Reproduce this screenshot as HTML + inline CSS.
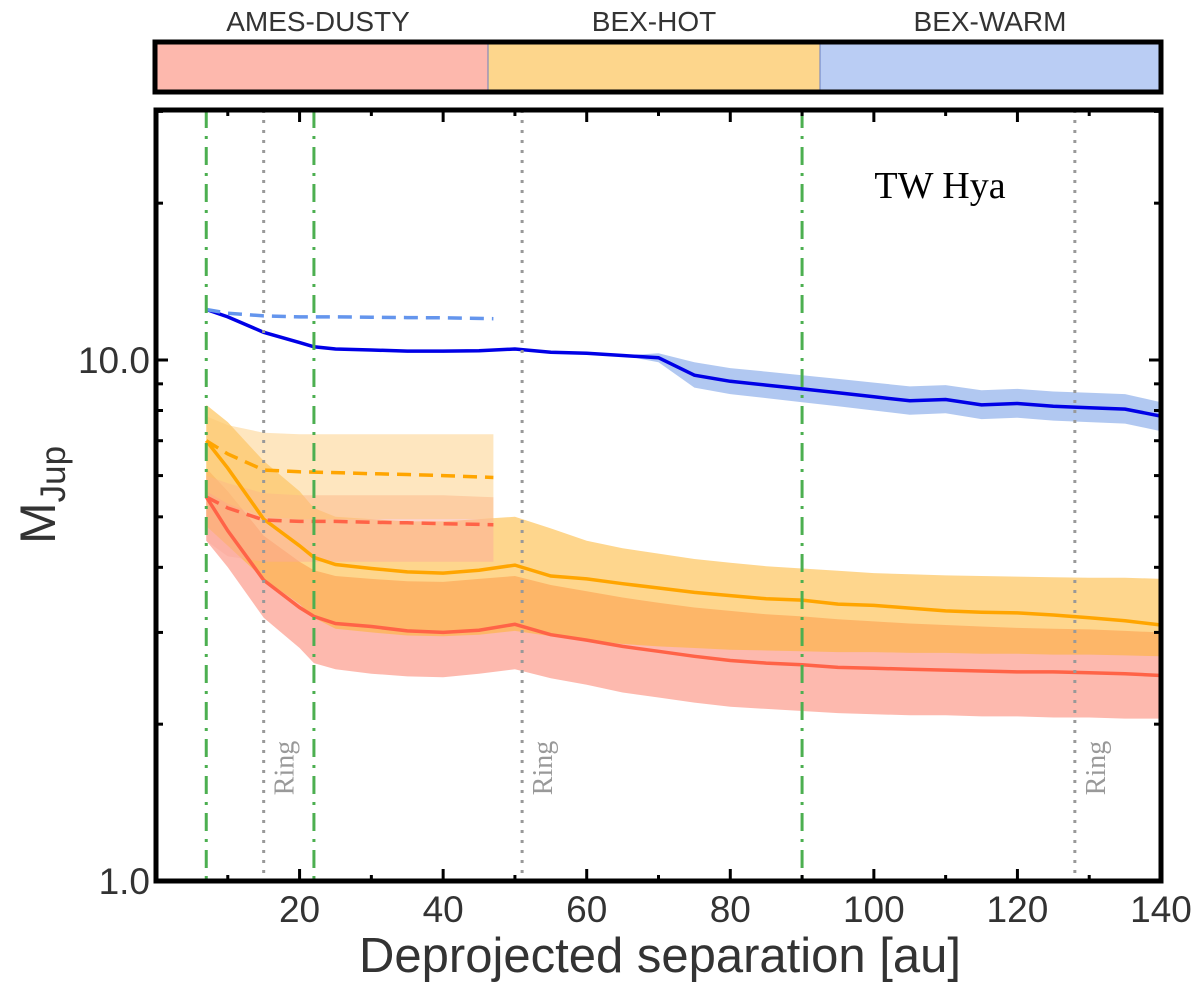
<!DOCTYPE html>
<html><head><meta charset="utf-8"><style>
body{margin:0;background:#fff;width:1200px;height:987px;overflow:hidden}
svg{display:block;font-family:"Liberation Sans",sans-serif}
</style></head><body>
<svg id="chart" width="1200" height="987" xmlns="http://www.w3.org/2000/svg">
<g>
<rect x="155" y="42" width="333" height="50" fill="#fdb8ad"/>
<rect x="488" y="42" width="332" height="50" fill="#fdd68c"/>
<rect x="820" y="42" width="341" height="50" fill="#bacdf4"/>
<line x1="488" y1="42" x2="488" y2="92" stroke="#6a7fc0" stroke-width="1"/>
<line x1="820" y1="42" x2="820" y2="92" stroke="#6a7fc0" stroke-width="1"/>
<rect x="155" y="42" width="1006" height="50" fill="none" stroke="#000" stroke-width="5"/>
<text x="318" y="31" font-size="28" fill="#333" text-anchor="middle">AMES-DUSTY</text>
<text x="654" y="31" font-size="28" fill="#333" text-anchor="middle">BEX-HOT</text>
<text x="990" y="31" font-size="28" fill="#333" text-anchor="middle">BEX-WARM</text>
</g>
<g id="plot"></g>
<text x="940" y="198" font-family="Liberation Serif,serif" font-size="38" fill="#000" text-anchor="middle">TW Hya</text>
<text x="660" y="972" font-size="49" fill="#333" text-anchor="middle">Deprojected separation [au]</text>
<text transform="translate(55,495) rotate(-90)" font-size="50" fill="#333" text-anchor="middle">M<tspan font-size="35" dy="10">Jup</tspan></text>
</svg>
<script>
const xVals=[7,10,15,20,22,25,30,35,40,45,50,55,60,65,70,75,80,85,90,95,100,105,110,115,120,125,130,135,140];
const blueVal=[12.5,12.1,11.3,10.8,10.6,10.5,10.45,10.4,10.4,10.42,10.5,10.35,10.3,10.2,10.1,9.35,9.1,8.95,8.8,8.65,8.5,8.35,8.4,8.2,8.25,8.15,8.1,8.05,7.8];
const blueLo=[12.5,12.1,11.3,10.8,10.6,10.5,10.45,10.4,10.4,10.42,10.5,10.35,10.3,10.2,9.9,8.85,8.6,8.45,8.3,8.15,8.0,7.85,7.9,7.7,7.75,7.65,7.6,7.55,7.3];
const blueHi=[12.5,12.1,11.3,10.8,10.6,10.5,10.45,10.4,10.4,10.42,10.5,10.35,10.3,10.2,10.3,9.9,9.65,9.5,9.35,9.2,9.05,8.9,8.95,8.75,8.8,8.7,8.65,8.6,8.3];
const orangeVal=[7.0,6.2,4.95,4.4,4.18,4.05,3.98,3.92,3.9,3.95,4.04,3.85,3.8,3.72,3.65,3.58,3.53,3.48,3.46,3.4,3.38,3.34,3.3,3.28,3.27,3.24,3.2,3.16,3.1];
const orangeLo=[4.8,4.4,3.8,3.4,3.2,3.05,3.0,2.96,2.95,2.97,3.02,2.95,2.9,2.85,2.82,2.8,2.78,2.77,2.76,2.75,2.75,2.74,2.74,2.73,2.73,2.72,2.72,2.71,2.7];
const orangeHi=[8.2,7.6,6.4,5.6,5.2,5.0,4.95,4.9,4.9,4.95,5.0,4.75,4.5,4.35,4.25,4.15,4.08,4.02,3.98,3.94,3.9,3.88,3.86,3.85,3.84,3.83,3.82,3.82,3.8];
const redVal=[5.46,4.7,3.78,3.35,3.22,3.12,3.08,3.02,3.0,3.03,3.11,2.97,2.9,2.82,2.76,2.7,2.65,2.62,2.6,2.57,2.56,2.55,2.54,2.53,2.52,2.52,2.51,2.5,2.48];
const redLo=[4.5,4.0,3.2,2.8,2.62,2.55,2.5,2.47,2.46,2.5,2.55,2.45,2.38,2.3,2.25,2.2,2.16,2.14,2.12,2.1,2.09,2.08,2.08,2.07,2.07,2.06,2.06,2.05,2.05];
const redHi=[6.2,5.6,4.6,4.1,3.95,3.85,3.8,3.76,3.75,3.8,3.85,3.7,3.6,3.5,3.42,3.35,3.3,3.25,3.22,3.18,3.15,3.12,3.1,3.08,3.06,3.05,3.04,3.02,3.0];
const dashX=[7,10,15,20,25,30,35,40,47];
const dashBlue=[12.5,12.3,12.15,12.1,12.1,12.08,12.06,12.05,12.0];
const dashOrange=[7.0,6.6,6.15,6.1,6.08,6.05,6.03,6.0,5.95];
const dashOrangeLo=[5.6,5.3,5.0,4.95,4.95,4.95,4.95,4.95,4.95];
const dashOrangeHi=[7.8,7.5,7.25,7.2,7.2,7.2,7.2,7.2,7.2];
const dashRed=[5.46,5.2,4.93,4.9,4.9,4.88,4.87,4.85,4.83];
const dashRedLo=[4.5,4.2,4.1,4.1,4.1,4.1,4.1,4.1,4.1];
const dashRedHi=[6.0,5.8,5.55,5.5,5.5,5.5,5.5,5.5,5.45];
const greenLines=[7,22,90];
const ringLines=[15,51,128];
const xTicks=[20,40,60,80,100,120,140];
const xMinor=[10,30,50,70,90,110,130];
const yTicks=[1,10];
const yTickLabels=["1.0","10.0"];
const yMinor=[2,3,4,5,6,7,8,9,20,30];

const L=156,R=1161,T=110,B=881;
const X=v=>L+(v-0)/140*(R-L);
const Y=v=>881-Math.log10(v)*521;
const NS="http://www.w3.org/2000/svg";
const g=document.getElementById('plot');
function mk(tag,attrs){const e=document.createElementNS(NS,tag);for(const k in attrs)e.setAttribute(k,attrs[k]);g.appendChild(e);return e;}
function line(xs,ys){return xs.map((x,i)=>(i?'L':'M')+X(x).toFixed(1)+','+Y(ys[i]).toFixed(1)).join(' ');}
function band(xs,lo,hi){let d=line(xs,hi);for(let i=xs.length-1;i>=0;i--)d+=' L'+X(xs[i]).toFixed(1)+','+Y(lo[i]).toFixed(1);return d+' Z';}

let e;
e=mk('path',{d:band(xVals,redLo,redHi),fill:'#fb8b78','fill-opacity':0.6});

e=mk('path',{d:band(xVals,orangeLo,orangeHi),fill:'#fdb430','fill-opacity':0.55});

e=mk('path',{d:band(xVals,blueLo,blueHi),fill:'#a9c2f0','fill-opacity':0.9});

e=mk('path',{d:band(dashX,dashRedLo,dashRedHi),fill:'#fcaa9a','fill-opacity':0.5});

e=mk('path',{d:band(dashX,dashOrangeLo,dashOrangeHi),fill:'#fdc870','fill-opacity':0.45});


e=mk('path',{d:line(xVals,redVal),fill:'none',stroke:'#ff6347','stroke-width':3.5});

e=mk('path',{d:line(xVals,orangeVal),fill:'none',stroke:'#ffa500','stroke-width':3.5});

e=mk('path',{d:line(xVals,blueVal),fill:'none',stroke:'#0000e6','stroke-width':3.5});

e=mk('path',{d:line(dashX,dashRed),fill:'none',stroke:'#ff6347','stroke-width':3.5,'stroke-dasharray':'14,8'});

e=mk('path',{d:line(dashX,dashOrange),fill:'none',stroke:'#ffa500','stroke-width':3.5,'stroke-dasharray':'14,8'});

e=mk('path',{d:line(dashX,dashBlue),fill:'none',stroke:'#6495ed','stroke-width':3.5,'stroke-dasharray':'14,8'});


greenLines.forEach(v=>{
  e=mk('line',{x1:X(v),x2:X(v),y1:T,y2:B,stroke:'#4caf50','stroke-width':3,'stroke-dasharray':'18,8,3,8'});
  
});
ringLines.forEach(v=>{
  e=mk('line',{x1:X(v),x2:X(v),y1:T,y2:B,stroke:'#999','stroke-width':3,'stroke-dasharray':'3,7'});
  
  e=mk('text',{transform:`translate(${X(v)+30},768) rotate(-90)`,'font-family':'Liberation Serif,serif','font-size':28,fill:'#999','text-anchor':'middle'});
  e.textContent='Ring';
  
});

e=mk('rect',{x:L,y:T,width:R-L,height:B-T,fill:'none',stroke:'#000','stroke-width':5});

xTicks.forEach(v=>{
  mk('line',{x1:X(v),x2:X(v),y1:B,y2:B-12,stroke:'#000','stroke-width':3});
  mk('line',{x1:X(v),x2:X(v),y1:T,y2:T+12,stroke:'#000','stroke-width':3});
  e=mk('text',{x:X(v),y:922,'font-size':37,fill:'#333','text-anchor':'middle'});
  e.textContent=v;
  
});
xMinor.forEach(v=>{
  mk('line',{x1:X(v),x2:X(v),y1:B,y2:B-6,stroke:'#000','stroke-width':3});
  mk('line',{x1:X(v),x2:X(v),y1:T,y2:T+6,stroke:'#000','stroke-width':3});
});
yTicks.forEach((v,i)=>{
  mk('line',{x1:L,x2:L+12,y1:Y(v),y2:Y(v),stroke:'#000','stroke-width':3});
  mk('line',{x1:R,x2:R-12,y1:Y(v),y2:Y(v),stroke:'#000','stroke-width':3});
  e=mk('text',{x:L-6,y:Y(v)+13,'font-size':37,fill:'#333','text-anchor':'end'});
  e.textContent=yTickLabels[i];
  
});
yMinor.forEach(v=>{
  mk('line',{x1:L,x2:L+7,y1:Y(v),y2:Y(v),stroke:'#000','stroke-width':3});
  mk('line',{x1:R,x2:R-7,y1:Y(v),y2:Y(v),stroke:'#000','stroke-width':3});
});
</script>
</body></html>
